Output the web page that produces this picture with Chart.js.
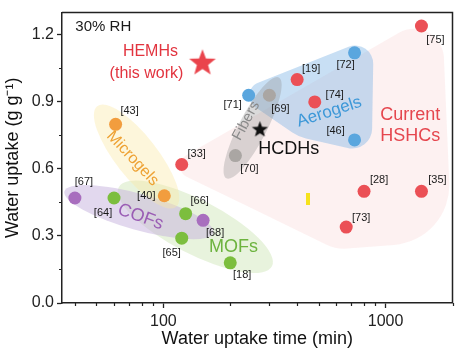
<!DOCTYPE html>
<html>
<head>
<meta charset="utf-8">
<script src="https://cdn.jsdelivr.net/npm/chart.js@4.4.1/dist/chart.umd.min.js"></script>
<style>
  html, body { margin: 0; padding: 0; background: #fff; }
  #wrap { width: 459px; height: 348px; }
</style>
</head>
<body>
<div id="wrap"><canvas id="myChart" width="459" height="348"></canvas></div>
<script>
// literature hygroscopic materials
const refLabels = ["[75]", "[72]", "[19]", "[74]", "[71]", "[69]", "[46]", "[70]", "[33]", "[28]",
                   "[35]", "[73]", "[43]", "[40]", "[67]", "[64]", "[66]", "[68]", "[65]", "[18]"];
const uptakeTime = [1450, 725, 400, 480, 242, 300, 725, 211, 121, 800,
                    1450, 665, 61, 101, 40, 60, 126, 151, 121, 200];
const waterUptake = [1.24, 1.12, 1.00, 0.90, 0.93, 0.93, 0.73, 0.66, 0.62, 0.50,
                     0.50, 0.34, 0.80, 0.48, 0.47, 0.47, 0.40, 0.37, 0.29, 0.18];
const materialType = ["HSHC", "Aerogel", "HSHC", "HSHC", "Aerogel", "Fiber", "Aerogel", "Fiber", "HSHC", "HSHC",
                      "HSHC", "HSHC", "Microgel", "Microgel", "COF", "MOF", "MOF", "COF", "MOF", "MOF"];

// this work (red star) and HCDHs (black star)
const starNames = ["HEMHs", "HCDHs"];
const starTime = [150, 272];
const starUptake = [1.08, 0.78];

// small yellow mark
const markTime = [446];
const markUptake = [0.466];

const xTicks = [100, 1000];
const xMinor = [40, 50, 60, 70, 80, 90, 200, 300, 400, 500, 600, 700, 800, 900, 2000];
const yTicks = [0.0, 0.3, 0.6, 0.9, 1.2];
const yMinor = [0.15, 0.45, 0.75, 1.05];

// label offsets (px) for the reference tags, same order as refLabels
const labelOffsets = [[14, 14], [-9, 12], [14, -11], [20, -7], [-16, 10], [11, 14], [-19, -9], [14, 13], [15, -11], [15, -11],
                      [16, -11], [15, -9], [14, -13], [-18, 0], [9, -16], [-11, 15], [14, -13], [12, 13], [-10, 15], [12, 12]];

const typeColors = {
  HSHC: "rgb(235, 80, 86)",
  Aerogel: "rgb(90, 166, 222)",
  Fiber: "rgb(170, 166, 163)",
  Microgel: "rgb(242, 157, 62)",
  COF: "rgb(168, 110, 190)",
  MOF: "rgb(124, 190, 62)"
};

// shaded groups, corners in data units
const regions = [
  { kind: "poly", fill: "rgba(249, 200, 200, 0.26)", pts: [[103, 0.61, 12], [1790, 1.32, 30], [1985, 0.28, 60], [600, 0.24, 40]] },
  { kind: "ellipse", fill: "rgba(205, 228, 180, 0.45)", ends: [[63, 0.518], [308, 0.164]], hw: 27 },
  { kind: "ellipse", fill: "rgba(198, 178, 222, 0.5)", ends: [[35.9, 0.50], [168, 0.314]], hw: 18 },
  { kind: "ellipse", fill: "rgba(250, 232, 165, 0.4)", ends: [[50.4, 0.881], [114, 0.43]], hw: 21 },
  { kind: "poly", fill: "rgba(125, 178, 228, 0.42)", pts: [[207, 0.943, 14], [884, 1.191, 18], [866, 0.669, 20], [406, 0.744, 40]] },
  { kind: "ellipse", fill: "rgba(140, 140, 140, 0.32)", ends: [[331, 1.01], [192, 0.558]], hw: 14 }
];

const groupText = [
  { text: "30% RH", x: 40.2, y: 1.236, color: "#1a1a1a", size: 15, rot: 0, align: "left" },
  { text: "HEMHs", x: 87.5, y: 1.125, color: "#e2343f", size: 16, rot: 0 },
  { text: "(this work)", x: 84, y: 1.027, color: "#e2343f", size: 16, rot: 0 },
  { text: "Current", x: 1291, y: 0.841, color: "#e5464e", size: 18, rot: 0 },
  { text: "HSHCs", x: 1291, y: 0.748, color: "#e5464e", size: 18, rot: 0 },
  { text: "HCDHs", x: 367, y: 0.691, color: "#111", size: 18, rot: 0 },
  { text: "Aerogels", x: 558, y: 0.855, color: "#3d98d8", size: 17, rot: -18 },
  { text: "Fibers", x: 236, y: 0.815, color: "#8a8a8a", size: 15, rot: -62 },
  { text: "Microgels", x: 72.8, y: 0.647, color: "#eea234", size: 16, rot: 47 },
  { text: "COFs", x: 79, y: 0.385, color: "#9a5db4", size: 18, rot: 20 },
  { text: "MOFs", x: 207, y: 0.252, color: "#6db33f", size: 18, rot: 0 }
];

const FONT = "Arial, 'Liberation Sans', sans-serif";
Chart.defaults.font.family = FONT;

function makeStar(r, color) {
  const c = document.createElement("canvas");
  c.width = c.height = Math.ceil(r * 2 + 2);
  const ctx = c.getContext("2d");
  const cx = c.width / 2, cy = c.height / 2 + r * 0.1;
  ctx.beginPath();
  for (let i = 0; i < 10; i++) {
    const rad = i % 2 === 0 ? r : r * 0.42;
    const a = -Math.PI / 2 + i * Math.PI / 5;
    ctx.lineTo(cx + rad * Math.cos(a), cy + rad * Math.sin(a));
  }
  ctx.closePath();
  ctx.fillStyle = color;
  ctx.fill();
  return c;
}

function makeBar(w, h, color) {
  const c = document.createElement("canvas");
  c.width = w; c.height = h;
  const ctx = c.getContext("2d");
  ctx.fillStyle = color;
  ctx.fillRect(0, 0, w, h);
  return c;
}

const datasets = Object.keys(typeColors).map(type => ({
  label: type,
  data: uptakeTime.map((t, i) => ({ x: t, y: waterUptake[i] }))
    .filter((p, i) => materialType[i] === type),
  backgroundColor: typeColors[type],
  borderWidth: 0,
  pointRadius: 6.5
}));

datasets.push({
  label: starNames[0],
  data: [{ x: starTime[0], y: starUptake[0] }],
  pointStyle: makeStar(14, "rgb(234, 68, 76)")
});
datasets.push({
  label: starNames[1],
  data: [{ x: starTime[1], y: starUptake[1] }],
  pointStyle: makeStar(8.5, "#111")
});
datasets.push({
  label: "mark",
  data: [{ x: markTime[0], y: markUptake[0] }],
  pointStyle: makeBar(4, 12, "#f6e21c")
});

function roundedPoly(ctx, pts) {
  const n = pts.length;
  const mid = (a, b) => ({ x: (a.x + b.x) / 2, y: (a.y + b.y) / 2 });
  const m0 = mid(pts[n - 1], pts[0]);
  ctx.moveTo(m0.x, m0.y);
  for (let i = 0; i < n; i++) {
    const p = pts[i], q = pts[(i + 1) % n];
    const m = mid(p, q);
    ctx.arcTo(p.x, p.y, m.x, m.y, p.r);
  }
  ctx.closePath();
}

const regionPlugin = {
  id: "regions",
  beforeDatasetsDraw(chart) {
    const { ctx, chartArea, scales: { x, y } } = chart;
    ctx.save();
    ctx.beginPath();
    ctx.rect(chartArea.left, chartArea.top, chartArea.right - chartArea.left, chartArea.bottom - chartArea.top);
    ctx.clip();
    regions.forEach(r => {
      ctx.beginPath();
      if (r.kind === "poly") {
        roundedPoly(ctx, r.pts.map(p => ({ x: x.getPixelForValue(p[0]), y: y.getPixelForValue(p[1]), r: p[2] })));
      } else {
        const x1 = x.getPixelForValue(r.ends[0][0]), y1 = y.getPixelForValue(r.ends[0][1]);
        const x2 = x.getPixelForValue(r.ends[1][0]), y2 = y.getPixelForValue(r.ends[1][1]);
        const a = Math.hypot(x2 - x1, y2 - y1) / 2;
        ctx.ellipse((x1 + x2) / 2, (y1 + y2) / 2, a, r.hw, Math.atan2(y2 - y1, x2 - x1), 0, Math.PI * 2);
      }
      ctx.fillStyle = r.fill;
      ctx.fill();
    });
    ctx.restore();
  }
};

const textPlugin = {
  id: "texts",
  afterDatasetsDraw(chart) {
    const { ctx, chartArea, scales: { x, y } } = chart;
    ctx.save();
    ctx.textBaseline = "middle";

    // reference tags
    ctx.font = "11px " + FONT;
    ctx.fillStyle = "#1a1a1a";
    ctx.textAlign = "center";
    refLabels.forEach((lab, i) => {
      const px = x.getPixelForValue(uptakeTime[i]) + labelOffsets[i][0];
      const py = y.getPixelForValue(waterUptake[i]) + labelOffsets[i][1];
      ctx.fillText(lab, px, py);
    });

    // group names
    groupText.forEach(g => {
      ctx.save();
      ctx.translate(x.getPixelForValue(g.x), y.getPixelForValue(g.y));
      ctx.rotate(g.rot * Math.PI / 180);
      ctx.font = g.size + "px " + FONT;
      ctx.fillStyle = g.color;
      ctx.textAlign = g.align || "center";
      ctx.fillText(g.text, 0, 0);
      ctx.restore();
    });

    // minor ticks
    ctx.strokeStyle = "#222";
    ctx.lineWidth = 1.2;
    ctx.beginPath();
    xMinor.forEach(v => {
      const px = Math.round(x.getPixelForValue(v)) + 0.5;
      ctx.moveTo(px, chartArea.bottom);
      ctx.lineTo(px, chartArea.bottom + 3);
    });
    yMinor.forEach(v => {
      const py = Math.round(y.getPixelForValue(v)) + 0.5;
      ctx.moveTo(chartArea.left, py);
      ctx.lineTo(chartArea.left - 3, py);
    });
    ctx.stroke();

    // top and right frame
    ctx.lineWidth = 1.5;
    ctx.beginPath();
    ctx.moveTo(chartArea.left, chartArea.top);
    ctx.lineTo(chartArea.right, chartArea.top);
    ctx.lineTo(chartArea.right, chartArea.bottom);
    ctx.stroke();
    ctx.restore();
  }
};

const myChart = document.getElementById("myChart");
new Chart(myChart, {
  type: "scatter",
  data: { datasets },
  options: {
    responsive: false,
    animation: false,
    events: [],
    layout: { padding: { top: 9, right: 3, left: 0, bottom: 0 } },
    plugins: { legend: { display: false }, tooltip: { enabled: false } },
    scales: {
      x: {
        type: "logarithmic",
        min: 35,
        max: 2000,
        afterBuildTicks: s => { s.ticks = xTicks.map(v => ({ value: v })); },
        afterFit: s => { s.height = 45; },
        ticks: { callback: v => String(v), font: { size: 16 }, color: "#222", padding: 4, maxRotation: 0, autoSkip: false },
        grid: { drawOnChartArea: false, tickLength: 5, tickColor: "#222", tickWidth: 1.3 },
        border: { color: "#222", width: 1.5 },
        title: { display: true, text: "Water uptake time (min)", font: { size: 18, lineHeight: 1 }, color: "#111", padding: 0 }
      },
      y: {
        min: 0,
        max: 1.3,
        afterBuildTicks: s => { s.ticks = yTicks.map(v => ({ value: v })); },
        afterFit: s => { s.width = 62; },
        ticks: { callback: v => v.toFixed(1), font: { size: 16 }, color: "#222", padding: 3 },
        grid: { drawOnChartArea: false, tickLength: 5, tickColor: "#222", tickWidth: 1.3 },
        border: { color: "#222", width: 1.5 },
        title: { display: true, text: "Water uptake (g g\u207B\u00B9)", font: { size: 18, lineHeight: 1 }, color: "#111", padding: { top: 4, bottom: 0 } }
      }
    }
  },
  plugins: [regionPlugin, textPlugin]
});
</script>
</body>
</html>
